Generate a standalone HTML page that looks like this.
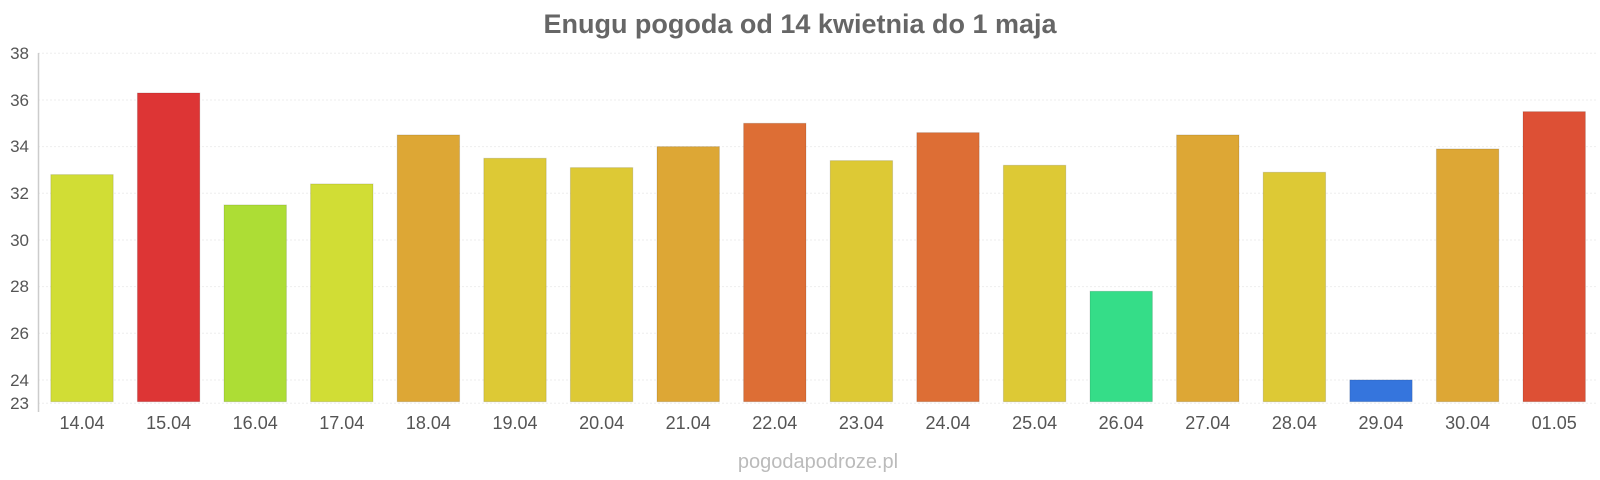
<!DOCTYPE html>
<html><head><meta charset="utf-8"><style>
html,body{margin:0;padding:0;background:#fff;}
svg{display:block;font-family:"Liberation Sans",sans-serif;}
</style></head><body>
<svg width="1600" height="480" viewBox="0 0 1600 480" xmlns="http://www.w3.org/2000/svg">
<text x="800" y="33" text-anchor="middle" font-size="27" font-weight="bold" fill="#666">Enugu pogoda od 14 kwietnia do 1 maja</text>
<g stroke="#eee" stroke-width="1" stroke-dasharray="2,2">
<line x1="38" x2="1598" y1="53.3" y2="53.3"/>
<line x1="38" x2="1598" y1="100" y2="100"/>
<line x1="38" x2="1598" y1="146.6" y2="146.6"/>
<line x1="38" x2="1598" y1="193.3" y2="193.3"/>
<line x1="38" x2="1598" y1="240" y2="240"/>
<line x1="38" x2="1598" y1="286.6" y2="286.6"/>
<line x1="38" x2="1598" y1="333.3" y2="333.3"/>
<line x1="38" x2="1598" y1="380" y2="380"/>
<line x1="38" x2="1598" y1="403.3" y2="403.3"/>
</g>
<line x1="38.5" x2="38.5" y1="53" y2="412" stroke="#ccc" stroke-width="1.5"/>
<g font-size="17" fill="#555" text-anchor="end">
<text x="29" y="59">38</text><text x="29" y="106">36</text><text x="29" y="152">34</text>
<text x="29" y="199">32</text><text x="29" y="246">30</text><text x="29" y="292">28</text>
<text x="29" y="339">26</text><text x="29" y="386">24</text><text x="29" y="409">23</text>
</g>
<g id="bars"></g>
<g id="labels" font-size="18" fill="#555" text-anchor="middle"></g>
<text x="818" y="468" text-anchor="middle" font-size="20" fill="#bbb">pogodapodroze.pl</text>
<script>
var d=[["14.04",32.8,"#d1dd35"],["15.04",36.3,"#dd3535"],["16.04",31.5,"#addd35"],["17.04",32.4,"#d1dd35"],["18.04",34.5,"#dda735"],["19.04",33.5,"#ddc935"],["20.04",33.1,"#ddc935"],["21.04",34.0,"#dda735"],["22.04",35.0,"#dd6e35"],["23.04",33.4,"#ddc935"],["24.04",34.6,"#dd6e35"],["25.04",33.2,"#ddc935"],["26.04",27.8,"#35dd88"],["27.04",34.5,"#dda735"],["28.04",32.9,"#ddc935"],["29.04",24.0,"#3575dd"],["30.04",33.9,"#dda735"],["01.05",35.5,"#dd5035"]];
var ns="http://www.w3.org/2000/svg",b=document.getElementById("bars"),l=document.getElementById("labels");
d.forEach(function(e,i){var cx=82+i*86.6,y=53.3+(38-e[1])*23.33;
var r=document.createElementNS(ns,"rect");r.setAttribute("x",cx-31.2);r.setAttribute("y",y);r.setAttribute("width",62.4);r.setAttribute("height",401.7-y);r.setAttribute("fill",e[2]);r.setAttribute("stroke","rgba(0,0,0,0.12)");r.setAttribute("stroke-width","1");b.appendChild(r);
var t=document.createElementNS(ns,"text");t.setAttribute("x",cx);t.setAttribute("y",429);t.textContent=e[0];l.appendChild(t);});
</script>
</svg>
</body></html>
